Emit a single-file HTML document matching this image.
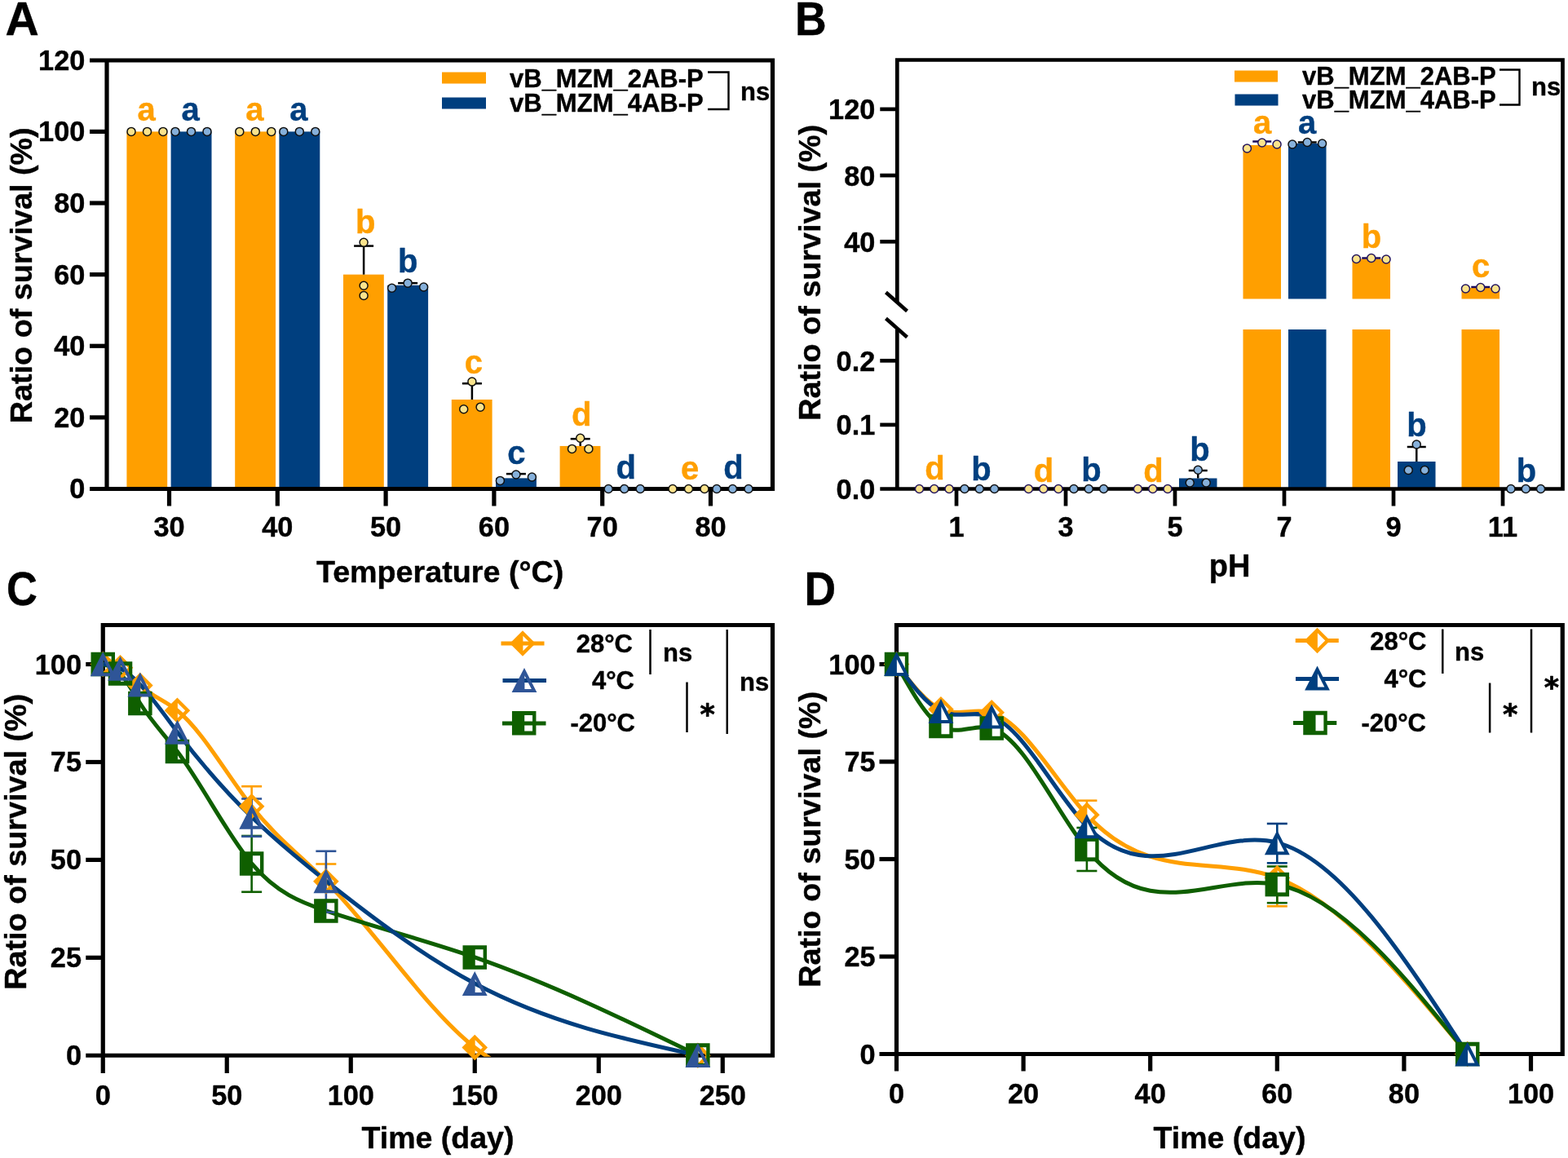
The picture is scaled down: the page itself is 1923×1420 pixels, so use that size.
<!DOCTYPE html>
<html lang="en"><head><meta charset="utf-8"><title>Figure</title>
<style>
html,body{margin:0;padding:0;background:#fff;}
body{width:1923px;height:1420px;}
svg{display:block;}
svg text{font-family:"Liberation Sans",Arial,sans-serif;font-weight:bold;stroke-width:0.4px;stroke-linejoin:round;}
svg text.st{font-family:"DejaVu Sans","Liberation Sans",sans-serif;font-weight:bold;stroke:#000;stroke-width:0.7px;}
</style></head><body>
<svg width="1923" height="1420" viewBox="0 0 1923 1420">
<rect width="1923" height="1420" fill="#fff"/>
<rect x="155.4" y="161.4" width="49.8" height="438.1" fill="#FF9F00"/>
<rect x="209.6" y="161.4" width="49.9" height="438.1" fill="#003F7F"/>
<rect x="288.2" y="161.4" width="49.8" height="438.1" fill="#FF9F00"/>
<rect x="342.4" y="161.4" width="49.9" height="438.1" fill="#003F7F"/>
<rect x="421" y="336.64" width="49.8" height="262.86" fill="#FF9F00"/>
<rect x="475.2" y="349.78" width="49.9" height="249.72" fill="#003F7F"/>
<rect x="553.8" y="489.98" width="49.8" height="109.52" fill="#FF9F00"/>
<rect x="608" y="586.36" width="49.9" height="13.14" fill="#003F7F"/>
<rect x="686.6" y="546.93" width="49.8" height="52.57" fill="#FF9F00"/>
<path d="M110 74H947.5V599.5H110M131 74V599.5" fill="none" stroke="#000" stroke-width="5.2" stroke-linejoin="miter"/>
<text x="104.3" y="611.4" font-size="34.3" text-anchor="end" fill="#000" stroke="#000">0</text>
<line x1="110" y1="511.88" x2="131" y2="511.88" stroke="#000" stroke-width="5.2"/>
<text x="104.3" y="523.78" font-size="34.3" text-anchor="end" fill="#000" stroke="#000">20</text>
<line x1="110" y1="424.26" x2="131" y2="424.26" stroke="#000" stroke-width="5.2"/>
<text x="104.3" y="436.16" font-size="34.3" text-anchor="end" fill="#000" stroke="#000">40</text>
<line x1="110" y1="336.64" x2="131" y2="336.64" stroke="#000" stroke-width="5.2"/>
<text x="104.3" y="348.54" font-size="34.3" text-anchor="end" fill="#000" stroke="#000">60</text>
<line x1="110" y1="249.02" x2="131" y2="249.02" stroke="#000" stroke-width="5.2"/>
<text x="104.3" y="260.92" font-size="34.3" text-anchor="end" fill="#000" stroke="#000">80</text>
<line x1="110" y1="161.4" x2="131" y2="161.4" stroke="#000" stroke-width="5.2"/>
<text x="104.3" y="173.3" font-size="34.3" text-anchor="end" fill="#000" stroke="#000">100</text>
<text x="104.3" y="85.68" font-size="34.3" text-anchor="end" fill="#000" stroke="#000">120</text>
<line x1="207.5" y1="599.5" x2="207.5" y2="620.5" stroke="#000" stroke-width="5.2"/>
<text x="207.5" y="658" font-size="34.3" text-anchor="middle" fill="#000" stroke="#000">30</text>
<line x1="340.3" y1="599.5" x2="340.3" y2="620.5" stroke="#000" stroke-width="5.2"/>
<text x="340.3" y="658" font-size="34.3" text-anchor="middle" fill="#000" stroke="#000">40</text>
<line x1="473.1" y1="599.5" x2="473.1" y2="620.5" stroke="#000" stroke-width="5.2"/>
<text x="473.1" y="658" font-size="34.3" text-anchor="middle" fill="#000" stroke="#000">50</text>
<line x1="605.9" y1="599.5" x2="605.9" y2="620.5" stroke="#000" stroke-width="5.2"/>
<text x="605.9" y="658" font-size="34.3" text-anchor="middle" fill="#000" stroke="#000">60</text>
<line x1="738.7" y1="599.5" x2="738.7" y2="620.5" stroke="#000" stroke-width="5.2"/>
<text x="738.7" y="658" font-size="34.3" text-anchor="middle" fill="#000" stroke="#000">70</text>
<line x1="871.5" y1="599.5" x2="871.5" y2="620.5" stroke="#000" stroke-width="5.2"/>
<text x="871.5" y="658" font-size="34.3" text-anchor="middle" fill="#000" stroke="#000">80</text>
<line x1="446.1" y1="336.64" x2="446.1" y2="301.59" stroke="#000" stroke-width="2.5"/>
<line x1="434.1" y1="301.59" x2="458.1" y2="301.59" stroke="#000" stroke-width="2.5"/>
<line x1="500.1" y1="349.78" x2="500.1" y2="347.15" stroke="#000" stroke-width="2.5"/>
<line x1="488.1" y1="347.15" x2="512.1" y2="347.15" stroke="#000" stroke-width="2.5"/>
<line x1="578.9" y1="489.98" x2="578.9" y2="470.26" stroke="#000" stroke-width="2.5"/>
<line x1="566.9" y1="470.26" x2="590.9" y2="470.26" stroke="#000" stroke-width="2.5"/>
<line x1="632.9" y1="586.36" x2="632.9" y2="581.1" stroke="#000" stroke-width="2.5"/>
<line x1="620.9" y1="581.1" x2="644.9" y2="581.1" stroke="#000" stroke-width="2.5"/>
<line x1="711.7" y1="546.93" x2="711.7" y2="538.17" stroke="#000" stroke-width="2.5"/>
<line x1="699.7" y1="538.17" x2="723.7" y2="538.17" stroke="#000" stroke-width="2.5"/>
<circle cx="161" cy="161.4" r="5.0" fill="#FBE38C" stroke="#111" stroke-width="1.5"/>
<circle cx="180.5" cy="161.4" r="5.0" fill="#FBE38C" stroke="#111" stroke-width="1.5"/>
<circle cx="200" cy="161.4" r="5.0" fill="#FBE38C" stroke="#111" stroke-width="1.5"/>
<circle cx="215" cy="161.4" r="5.0" fill="#86B0DA" stroke="#111" stroke-width="1.5"/>
<circle cx="234.5" cy="161.4" r="5.0" fill="#86B0DA" stroke="#111" stroke-width="1.5"/>
<circle cx="254" cy="161.4" r="5.0" fill="#86B0DA" stroke="#111" stroke-width="1.5"/>
<circle cx="293.8" cy="161.4" r="5.0" fill="#FBE38C" stroke="#111" stroke-width="1.5"/>
<circle cx="313.3" cy="161.4" r="5.0" fill="#FBE38C" stroke="#111" stroke-width="1.5"/>
<circle cx="332.8" cy="161.4" r="5.0" fill="#FBE38C" stroke="#111" stroke-width="1.5"/>
<circle cx="347.8" cy="161.4" r="5.0" fill="#86B0DA" stroke="#111" stroke-width="1.5"/>
<circle cx="367.3" cy="161.4" r="5.0" fill="#86B0DA" stroke="#111" stroke-width="1.5"/>
<circle cx="386.8" cy="161.4" r="5.0" fill="#86B0DA" stroke="#111" stroke-width="1.5"/>
<circle cx="446.1" cy="297.21" r="5.0" fill="#FBE38C" stroke="#111" stroke-width="1.5"/>
<circle cx="446.1" cy="350.22" r="5.0" fill="#FBE38C" stroke="#111" stroke-width="1.5"/>
<circle cx="446.1" cy="362.49" r="5.0" fill="#FBE38C" stroke="#111" stroke-width="1.5"/>
<circle cx="480.6" cy="353.29" r="5.0" fill="#86B0DA" stroke="#111" stroke-width="1.5"/>
<circle cx="500.1" cy="347.15" r="5.0" fill="#86B0DA" stroke="#111" stroke-width="1.5"/>
<circle cx="519.6" cy="351.97" r="5.0" fill="#86B0DA" stroke="#111" stroke-width="1.5"/>
<circle cx="568.7" cy="501.8" r="5.0" fill="#FBE38C" stroke="#111" stroke-width="1.5"/>
<circle cx="578.9" cy="468.07" r="5.0" fill="#FBE38C" stroke="#111" stroke-width="1.5"/>
<circle cx="589.1" cy="499.18" r="5.0" fill="#FBE38C" stroke="#111" stroke-width="1.5"/>
<circle cx="613.4" cy="589.42" r="5.0" fill="#86B0DA" stroke="#111" stroke-width="1.5"/>
<circle cx="632.9" cy="581.98" r="5.0" fill="#86B0DA" stroke="#111" stroke-width="1.5"/>
<circle cx="652.4" cy="585.04" r="5.0" fill="#86B0DA" stroke="#111" stroke-width="1.5"/>
<circle cx="701.5" cy="550.43" r="5.0" fill="#FBE38C" stroke="#111" stroke-width="1.5"/>
<circle cx="711.7" cy="537.29" r="5.0" fill="#FBE38C" stroke="#111" stroke-width="1.5"/>
<circle cx="721.9" cy="550.43" r="5.0" fill="#FBE38C" stroke="#111" stroke-width="1.5"/>
<circle cx="746.2" cy="599.5" r="5.0" fill="#86B0DA" stroke="#111" stroke-width="1.5"/>
<circle cx="765.7" cy="599.5" r="5.0" fill="#86B0DA" stroke="#111" stroke-width="1.5"/>
<circle cx="785.2" cy="599.5" r="5.0" fill="#86B0DA" stroke="#111" stroke-width="1.5"/>
<circle cx="825" cy="599.5" r="5.0" fill="#FBE38C" stroke="#111" stroke-width="1.5"/>
<circle cx="844.5" cy="599.5" r="5.0" fill="#FBE38C" stroke="#111" stroke-width="1.5"/>
<circle cx="864" cy="599.5" r="5.0" fill="#FBE38C" stroke="#111" stroke-width="1.5"/>
<circle cx="879" cy="599.5" r="5.0" fill="#86B0DA" stroke="#111" stroke-width="1.5"/>
<circle cx="898.5" cy="599.5" r="5.0" fill="#86B0DA" stroke="#111" stroke-width="1.5"/>
<circle cx="918" cy="599.5" r="5.0" fill="#86B0DA" stroke="#111" stroke-width="1.5"/>
<text x="179.5" y="148" font-size="40" text-anchor="middle" fill="#FF9F00" stroke="#FF9F00">a</text>
<text x="233.5" y="148" font-size="40" text-anchor="middle" fill="#003F7F" stroke="#003F7F">a</text>
<text x="312.3" y="148" font-size="40" text-anchor="middle" fill="#FF9F00" stroke="#FF9F00">a</text>
<text x="366.3" y="148" font-size="40" text-anchor="middle" fill="#003F7F" stroke="#003F7F">a</text>
<text x="448.1" y="285.5" font-size="40" text-anchor="middle" fill="#FF9F00" stroke="#FF9F00">b</text>
<text x="500.1" y="333.5" font-size="40" text-anchor="middle" fill="#003F7F" stroke="#003F7F">b</text>
<text x="580.9" y="457.5" font-size="40" text-anchor="middle" fill="#FF9F00" stroke="#FF9F00">c</text>
<text x="633.4" y="568.5" font-size="40" text-anchor="middle" fill="#003F7F" stroke="#003F7F">c</text>
<text x="713.2" y="522.2" font-size="40" text-anchor="middle" fill="#FF9F00" stroke="#FF9F00">d</text>
<text x="767.7" y="586.7" font-size="40" text-anchor="middle" fill="#003F7F" stroke="#003F7F">d</text>
<text x="846" y="588.2" font-size="40" text-anchor="middle" fill="#FF9F00" stroke="#FF9F00">e</text>
<text x="899.5" y="586.7" font-size="40" text-anchor="middle" fill="#003F7F" stroke="#003F7F">d</text>
<rect x="542" y="88.5" width="54" height="14" fill="#FF9F00"/>
<rect x="542" y="119.5" width="54" height="14" fill="#003F7F"/>
<text x="625" y="106.5" font-size="31" text-anchor="start" fill="#000" stroke="#000">vB_MZM_2AB-P</text>
<text x="625" y="137.2" font-size="31" text-anchor="start" fill="#000" stroke="#000">vB_MZM_4AB-P</text>
<path d="M868 88.5H893.5V134H868" fill="none" stroke="#000" stroke-width="2.4"/>
<text x="908" y="122.5" font-size="31" text-anchor="start" fill="#000" stroke="#000">ns</text>
<text x="539.6" y="714.3" font-size="37.7" text-anchor="middle" fill="#000" stroke="#000">Temperature (°C)</text>
<text transform="translate(39,337.8) rotate(-90)" font-size="37.75" text-anchor="middle" stroke="#000">Ratio of survival (%)</text>
<text transform="translate(6.6,42.5) scale(1.02,1.01)" font-size="56" stroke="#000">A</text>
<rect x="1524.5" y="178" width="46.5" height="188.5" fill="#FF9F00"/>
<rect x="1524.5" y="404" width="46.5" height="195.5" fill="#FF9F00"/>
<rect x="1580" y="176" width="46.5" height="190.5" fill="#003F7F"/>
<rect x="1580" y="404" width="46.5" height="195.5" fill="#003F7F"/>
<rect x="1658.5" y="317.5" width="46.5" height="49" fill="#FF9F00"/>
<rect x="1658.5" y="404" width="46.5" height="195.5" fill="#FF9F00"/>
<rect x="1792.5" y="353" width="46.5" height="13.5" fill="#FF9F00"/>
<rect x="1792.5" y="404" width="46.5" height="195.5" fill="#FF9F00"/>
<rect x="1446" y="586.5" width="46.5" height="13" fill="#003F7F"/>
<rect x="1714" y="566" width="46.5" height="33.5" fill="#003F7F"/>
<path d="M1100.3 372V73.5H1916.5V599.5H1079.3M1100.3 404V599.5" fill="none" stroke="#000" stroke-width="4.7"/>
<line x1="1086.5" y1="358.5" x2="1112.5" y2="381.5" stroke="#000" stroke-width="4.5"/>
<line x1="1086.5" y1="390.5" x2="1112.5" y2="413.5" stroke="#000" stroke-width="4.5"/>
<text x="1073.3" y="611.9" font-size="34.3" text-anchor="end" fill="#000" stroke="#000">0.0</text>
<line x1="1079.3" y1="520.9" x2="1100.3" y2="520.9" stroke="#000" stroke-width="4.7"/>
<text x="1073.3" y="533.3" font-size="34.3" text-anchor="end" fill="#000" stroke="#000">0.1</text>
<line x1="1079.3" y1="442.3" x2="1100.3" y2="442.3" stroke="#000" stroke-width="4.7"/>
<text x="1073.3" y="454.7" font-size="34.3" text-anchor="end" fill="#000" stroke="#000">0.2</text>
<line x1="1079.3" y1="296.3" x2="1100.3" y2="296.3" stroke="#000" stroke-width="4.7"/>
<text x="1073.3" y="308.7" font-size="34.3" text-anchor="end" fill="#000" stroke="#000">40</text>
<line x1="1079.3" y1="215.1" x2="1100.3" y2="215.1" stroke="#000" stroke-width="4.7"/>
<text x="1073.3" y="227.5" font-size="34.3" text-anchor="end" fill="#000" stroke="#000">80</text>
<line x1="1079.3" y1="133.9" x2="1100.3" y2="133.9" stroke="#000" stroke-width="4.7"/>
<text x="1073.3" y="146.3" font-size="34.3" text-anchor="end" fill="#000" stroke="#000">120</text>
<line x1="1173" y1="599.5" x2="1173" y2="620.5" stroke="#000" stroke-width="4.7"/>
<text x="1173" y="658" font-size="34.3" text-anchor="middle" fill="#000" stroke="#000">1</text>
<line x1="1307" y1="599.5" x2="1307" y2="620.5" stroke="#000" stroke-width="4.7"/>
<text x="1307" y="658" font-size="34.3" text-anchor="middle" fill="#000" stroke="#000">3</text>
<line x1="1441" y1="599.5" x2="1441" y2="620.5" stroke="#000" stroke-width="4.7"/>
<text x="1441" y="658" font-size="34.3" text-anchor="middle" fill="#000" stroke="#000">5</text>
<line x1="1575" y1="599.5" x2="1575" y2="620.5" stroke="#000" stroke-width="4.7"/>
<text x="1575" y="658" font-size="34.3" text-anchor="middle" fill="#000" stroke="#000">7</text>
<line x1="1709" y1="599.5" x2="1709" y2="620.5" stroke="#000" stroke-width="4.7"/>
<text x="1709" y="658" font-size="34.3" text-anchor="middle" fill="#000" stroke="#000">9</text>
<line x1="1843" y1="599.5" x2="1843" y2="620.5" stroke="#000" stroke-width="4.7"/>
<text x="1843" y="658" font-size="34.3" text-anchor="middle" fill="#000" stroke="#000">11</text>
<line x1="1469.25" y1="586.5" x2="1469.25" y2="577" stroke="#000" stroke-width="2.5"/>
<line x1="1457.75" y1="577" x2="1480.75" y2="577" stroke="#000" stroke-width="2.5"/>
<line x1="1737.25" y1="566" x2="1737.25" y2="548" stroke="#000" stroke-width="2.5"/>
<line x1="1725.75" y1="548" x2="1748.75" y2="548" stroke="#000" stroke-width="2.5"/>
<line x1="1547.75" y1="178" x2="1547.75" y2="173.5" stroke="#1a0a5a" stroke-width="2.5"/>
<line x1="1536.25" y1="173.5" x2="1559.25" y2="173.5" stroke="#1a0a5a" stroke-width="2.5"/>
<line x1="1603.25" y1="176" x2="1603.25" y2="174.5" stroke="#000" stroke-width="2.5"/>
<line x1="1591.75" y1="174.5" x2="1614.75" y2="174.5" stroke="#000" stroke-width="2.5"/>
<line x1="1681.75" y1="317.5" x2="1681.75" y2="316.5" stroke="#1a0a5a" stroke-width="2.5"/>
<line x1="1670.25" y1="316.5" x2="1693.25" y2="316.5" stroke="#1a0a5a" stroke-width="2.5"/>
<line x1="1815.75" y1="353" x2="1815.75" y2="352" stroke="#1a0a5a" stroke-width="2.5"/>
<line x1="1804.25" y1="352" x2="1827.25" y2="352" stroke="#1a0a5a" stroke-width="2.5"/>
<circle cx="1127.45" cy="599.5" r="5.0" fill="#FBE38C" stroke="#23155e" stroke-width="1.5"/>
<circle cx="1145.75" cy="599.5" r="5.0" fill="#FBE38C" stroke="#23155e" stroke-width="1.5"/>
<circle cx="1164.05" cy="599.5" r="5.0" fill="#FBE38C" stroke="#23155e" stroke-width="1.5"/>
<circle cx="1182.95" cy="599.5" r="5.0" fill="#86B0DA" stroke="#111" stroke-width="1.5"/>
<circle cx="1201.25" cy="599.5" r="5.0" fill="#86B0DA" stroke="#111" stroke-width="1.5"/>
<circle cx="1219.55" cy="599.5" r="5.0" fill="#86B0DA" stroke="#111" stroke-width="1.5"/>
<circle cx="1261.45" cy="599.5" r="5.0" fill="#FBE38C" stroke="#23155e" stroke-width="1.5"/>
<circle cx="1279.75" cy="599.5" r="5.0" fill="#FBE38C" stroke="#23155e" stroke-width="1.5"/>
<circle cx="1298.05" cy="599.5" r="5.0" fill="#FBE38C" stroke="#23155e" stroke-width="1.5"/>
<circle cx="1316.95" cy="599.5" r="5.0" fill="#86B0DA" stroke="#111" stroke-width="1.5"/>
<circle cx="1335.25" cy="599.5" r="5.0" fill="#86B0DA" stroke="#111" stroke-width="1.5"/>
<circle cx="1353.55" cy="599.5" r="5.0" fill="#86B0DA" stroke="#111" stroke-width="1.5"/>
<circle cx="1395.45" cy="599.5" r="5.0" fill="#FBE38C" stroke="#23155e" stroke-width="1.5"/>
<circle cx="1413.75" cy="599.5" r="5.0" fill="#FBE38C" stroke="#23155e" stroke-width="1.5"/>
<circle cx="1432.05" cy="599.5" r="5.0" fill="#FBE38C" stroke="#23155e" stroke-width="1.5"/>
<circle cx="1459.25" cy="592" r="5.0" fill="#86B0DA" stroke="#111" stroke-width="1.5"/>
<circle cx="1469.25" cy="576.3" r="5.0" fill="#86B0DA" stroke="#111" stroke-width="1.5"/>
<circle cx="1479.25" cy="592" r="5.0" fill="#86B0DA" stroke="#111" stroke-width="1.5"/>
<circle cx="1529.45" cy="182" r="5.0" fill="#FBE38C" stroke="#23155e" stroke-width="1.5"/>
<circle cx="1547.75" cy="175" r="5.0" fill="#FBE38C" stroke="#23155e" stroke-width="1.5"/>
<circle cx="1566.05" cy="177" r="5.0" fill="#FBE38C" stroke="#23155e" stroke-width="1.5"/>
<circle cx="1584.95" cy="177" r="5.0" fill="#86B0DA" stroke="#111" stroke-width="1.5"/>
<circle cx="1603.25" cy="174.5" r="5.0" fill="#86B0DA" stroke="#111" stroke-width="1.5"/>
<circle cx="1621.55" cy="176" r="5.0" fill="#86B0DA" stroke="#111" stroke-width="1.5"/>
<circle cx="1663.45" cy="317.5" r="5.0" fill="#FBE38C" stroke="#23155e" stroke-width="1.5"/>
<circle cx="1681.75" cy="316.5" r="5.0" fill="#FBE38C" stroke="#23155e" stroke-width="1.5"/>
<circle cx="1700.05" cy="318" r="5.0" fill="#FBE38C" stroke="#23155e" stroke-width="1.5"/>
<circle cx="1727.25" cy="576.5" r="5.0" fill="#86B0DA" stroke="#111" stroke-width="1.5"/>
<circle cx="1737.25" cy="545" r="5.0" fill="#86B0DA" stroke="#111" stroke-width="1.5"/>
<circle cx="1747.25" cy="576.5" r="5.0" fill="#86B0DA" stroke="#111" stroke-width="1.5"/>
<circle cx="1797.45" cy="354" r="5.0" fill="#FBE38C" stroke="#23155e" stroke-width="1.5"/>
<circle cx="1815.75" cy="352.5" r="5.0" fill="#FBE38C" stroke="#23155e" stroke-width="1.5"/>
<circle cx="1834.05" cy="354" r="5.0" fill="#FBE38C" stroke="#23155e" stroke-width="1.5"/>
<circle cx="1852.95" cy="599.5" r="5.0" fill="#86B0DA" stroke="#111" stroke-width="1.5"/>
<circle cx="1871.25" cy="599.5" r="5.0" fill="#86B0DA" stroke="#111" stroke-width="1.5"/>
<circle cx="1889.55" cy="599.5" r="5.0" fill="#86B0DA" stroke="#111" stroke-width="1.5"/>
<text x="1146.5" y="587.5" font-size="40" text-anchor="middle" fill="#FF9F00" stroke="#FF9F00">d</text>
<text x="1203.5" y="588.5" font-size="40" text-anchor="middle" fill="#003F7F" stroke="#003F7F">b</text>
<text x="1280" y="591" font-size="40" text-anchor="middle" fill="#FF9F00" stroke="#FF9F00">d</text>
<text x="1338.5" y="590" font-size="40" text-anchor="middle" fill="#003F7F" stroke="#003F7F">b</text>
<text x="1414.5" y="591" font-size="40" text-anchor="middle" fill="#FF9F00" stroke="#FF9F00">d</text>
<text x="1471.5" y="564.5" font-size="40" text-anchor="middle" fill="#003F7F" stroke="#003F7F">b</text>
<text x="1548" y="164" font-size="40" text-anchor="middle" fill="#FF9F00" stroke="#FF9F00">a</text>
<text x="1603" y="164" font-size="40" text-anchor="middle" fill="#003F7F" stroke="#003F7F">a</text>
<text x="1682" y="304.3" font-size="40" text-anchor="middle" fill="#FF9F00" stroke="#FF9F00">b</text>
<text x="1737.5" y="535" font-size="40" text-anchor="middle" fill="#003F7F" stroke="#003F7F">b</text>
<text x="1816" y="339.8" font-size="40" text-anchor="middle" fill="#FF9F00" stroke="#FF9F00">c</text>
<text x="1872" y="590.5" font-size="40" text-anchor="middle" fill="#003F7F" stroke="#003F7F">b</text>
<rect x="1514" y="86.5" width="53" height="14" fill="#FF9F00"/>
<rect x="1514.5" y="115.5" width="53" height="14" fill="#003F7F"/>
<text x="1597" y="104" font-size="31" text-anchor="start" fill="#000" stroke="#000">vB_MZM_2AB-P</text>
<text x="1597" y="133" font-size="31" text-anchor="start" fill="#000" stroke="#000">vB_MZM_4AB-P</text>
<path d="M1839 85.5H1863.5V128.5H1839" fill="none" stroke="#000" stroke-width="2.4"/>
<text x="1878" y="116.5" font-size="31" text-anchor="start" fill="#000" stroke="#000">ns</text>
<text x="1508" y="707.2" font-size="38" text-anchor="middle" fill="#000" stroke="#000">pH</text>
<text transform="translate(1006.2,334.3) rotate(-90)" font-size="37.75" text-anchor="middle" stroke="#000">Ratio of survival (%)</text>
<text transform="translate(975,42.5) scale(0.956,1.02)" font-size="56" stroke="#000">B</text>
<path d="M126.25 1294.25V766.5H947.5V1294.25H105.25" fill="none" stroke="#000" stroke-width="5.2"/>
<text x="100" y="1306.25" font-size="34.3" text-anchor="end" fill="#000" stroke="#000">0</text>
<line x1="105.25" y1="1174.33" x2="126.25" y2="1174.33" stroke="#000" stroke-width="5.2"/>
<text x="100" y="1186.33" font-size="34.3" text-anchor="end" fill="#000" stroke="#000">25</text>
<line x1="105.25" y1="1054.4" x2="126.25" y2="1054.4" stroke="#000" stroke-width="5.2"/>
<text x="100" y="1066.4" font-size="34.3" text-anchor="end" fill="#000" stroke="#000">50</text>
<line x1="105.25" y1="934.48" x2="126.25" y2="934.48" stroke="#000" stroke-width="5.2"/>
<text x="100" y="946.48" font-size="34.3" text-anchor="end" fill="#000" stroke="#000">75</text>
<line x1="105.25" y1="814.55" x2="126.25" y2="814.55" stroke="#000" stroke-width="5.2"/>
<text x="100" y="826.55" font-size="34.3" text-anchor="end" fill="#000" stroke="#000">100</text>
<line x1="126.25" y1="1294.25" x2="126.25" y2="1316" stroke="#000" stroke-width="5.2"/>
<text x="126.25" y="1355.4" font-size="34.3" text-anchor="middle" fill="#000" stroke="#000">0</text>
<line x1="278.25" y1="1294.25" x2="278.25" y2="1316" stroke="#000" stroke-width="5.2"/>
<text x="278.25" y="1355.4" font-size="34.3" text-anchor="middle" fill="#000" stroke="#000">50</text>
<line x1="430.25" y1="1294.25" x2="430.25" y2="1316" stroke="#000" stroke-width="5.2"/>
<text x="430.25" y="1355.4" font-size="34.3" text-anchor="middle" fill="#000" stroke="#000">100</text>
<line x1="582.25" y1="1294.25" x2="582.25" y2="1316" stroke="#000" stroke-width="5.2"/>
<text x="582.25" y="1355.4" font-size="34.3" text-anchor="middle" fill="#000" stroke="#000">150</text>
<line x1="734.25" y1="1294.25" x2="734.25" y2="1316" stroke="#000" stroke-width="5.2"/>
<text x="734.25" y="1355.4" font-size="34.3" text-anchor="middle" fill="#000" stroke="#000">200</text>
<line x1="886.25" y1="1294.25" x2="886.25" y2="1316" stroke="#000" stroke-width="5.2"/>
<text x="886.25" y="1355.4" font-size="34.3" text-anchor="middle" fill="#000" stroke="#000">250</text>
<clipPath id="clipC"><rect x="126.25" y="766.5" width="821.25" height="529.25"/></clipPath><g clip-path="url(#clipC)">
<path d="M126.25 814.5C133.34 814.59 140.44 814.67 147.53 818.75C155.64 823.41 163.74 833.29 171.85 840.6C187.05 854.31 202.25 859.03 217.45 871.25C247.85 895.7 278.25 950.18 308.65 988.75C339.05 1027.32 369.45 1049.97 399.85 1080.75C460.65 1142.31 521.45 1236.38 582.25 1284.5C673.45 1356.68 764.65 1325.46 855.85 1294.25" fill="none" stroke="#FF9F00" stroke-width="5" stroke-linejoin="round"/>
</g>
<path d="M126.25 814.5C133.34 816.52 140.44 818.54 147.53 825.9C155.64 834.31 163.74 849.69 171.85 862.5C187.05 886.51 202.25 901.48 217.45 921.6C247.85 961.84 278.25 1022.7 308.65 1058.9C339.05 1095.1 369.45 1106.64 399.85 1116.9C460.65 1137.42 521.45 1152.85 582.25 1173.9C673.45 1205.48 764.65 1249.74 855.85 1294" fill="none" stroke="#0F5F00" stroke-width="5" stroke-linejoin="round"/>
<path d="M126.25 814.3C133.34 815.29 140.44 816.27 147.53 819.7C155.64 823.62 163.74 830.72 171.85 839.4C187.05 855.67 202.25 877.47 217.45 897.7C247.85 938.15 278.25 972.3 308.65 1001.8C339.05 1031.3 369.45 1056.15 399.85 1080.25C460.65 1128.45 521.45 1173.63 582.25 1206C673.45 1254.55 764.65 1274.28 855.85 1294" fill="none" stroke="#003F7F" stroke-width="5" stroke-linejoin="round"/>
<line x1="308.65" y1="988" x2="308.65" y2="964.3" stroke="#FF9F00" stroke-width="2.6"/>
<line x1="296.15" y1="964.3" x2="321.15" y2="964.3" stroke="#FF9F00" stroke-width="2.6"/>
<line x1="308.65" y1="1025" x2="308.65" y2="1093.75" stroke="#0F5F00" stroke-width="2.6"/>
<line x1="296.15" y1="1025" x2="321.15" y2="1025" stroke="#0F5F00" stroke-width="2.6"/>
<line x1="296.15" y1="1093.75" x2="321.15" y2="1093.75" stroke="#0F5F00" stroke-width="2.6"/>
<line x1="308.65" y1="979.5" x2="308.65" y2="1025.75" stroke="#2F5597" stroke-width="2.6"/>
<line x1="296.15" y1="979.5" x2="321.15" y2="979.5" stroke="#2F5597" stroke-width="2.6"/>
<line x1="296.15" y1="1025.75" x2="321.15" y2="1025.75" stroke="#2F5597" stroke-width="2.6"/>
<line x1="399.85" y1="1080" x2="399.85" y2="1059.5" stroke="#FF9F00" stroke-width="2.6"/>
<line x1="387.35" y1="1059.5" x2="412.35" y2="1059.5" stroke="#FF9F00" stroke-width="2.6"/>
<line x1="399.85" y1="1043.75" x2="399.85" y2="1118.75" stroke="#2F5597" stroke-width="2.6"/>
<line x1="387.35" y1="1043.75" x2="412.35" y2="1043.75" stroke="#2F5597" stroke-width="2.6"/>
<line x1="387.35" y1="1118.75" x2="412.35" y2="1118.75" stroke="#2F5597" stroke-width="2.6"/>
<path d="M126.25 798.7L142.05 814.5L126.25 830.3L110.45 814.5ZM126.65 805.18L135.97 814.5L126.65 823.82Z" fill="#FF9F00" fill-rule="evenodd"/>
<path d="M147.53 802.95L163.33 818.75L147.53 834.55L131.73 818.75ZM147.93 809.43L157.25 818.75L147.93 828.07Z" fill="#FF9F00" fill-rule="evenodd"/>
<path d="M171.85 824.8L187.65 840.6L171.85 856.4L156.05 840.6ZM172.25 831.28L181.57 840.6L172.25 849.92Z" fill="#FF9F00" fill-rule="evenodd"/>
<path d="M217.45 855.45L233.25 871.25L217.45 887.05L201.65 871.25ZM217.85 861.93L227.17 871.25L217.85 880.57Z" fill="#FF9F00" fill-rule="evenodd"/>
<path d="M308.65 972.95L324.45 988.75L308.65 1004.55L292.85 988.75ZM309.05 979.43L318.37 988.75L309.05 998.07Z" fill="#FF9F00" fill-rule="evenodd"/>
<path d="M399.85 1064.95L415.65 1080.75L399.85 1096.55L384.05 1080.75ZM400.25 1071.43L409.57 1080.75L400.25 1090.07Z" fill="#FF9F00" fill-rule="evenodd"/>
<path d="M582.25 1268.7L598.05 1284.5L582.25 1300.3L566.45 1284.5ZM582.65 1275.18L591.97 1284.5L582.65 1293.82Z" fill="#FF9F00" fill-rule="evenodd"/>
<path d="M855.85 1278.45L871.65 1294.25L855.85 1310.05L840.05 1294.25ZM856.25 1284.93L865.57 1294.25L856.25 1303.57Z" fill="#FF9F00" fill-rule="evenodd"/>
<path d="M111.5 799.75L141 799.75L141 829.25L111.5 829.25ZM126.75 804.75L136.6 804.75L136.6 824.25L126.75 824.25Z" fill="#0F5F00" fill-rule="evenodd"/>
<path d="M132.78 811.15L162.28 811.15L162.28 840.65L132.78 840.65ZM148.03 816.15L157.88 816.15L157.88 835.65L148.03 835.65Z" fill="#0F5F00" fill-rule="evenodd"/>
<path d="M157.1 847.75L186.6 847.75L186.6 877.25L157.1 877.25ZM172.35 852.75L182.2 852.75L182.2 872.25L172.35 872.25Z" fill="#0F5F00" fill-rule="evenodd"/>
<path d="M202.7 906.85L232.2 906.85L232.2 936.35L202.7 936.35ZM217.95 911.85L227.8 911.85L227.8 931.35L217.95 931.35Z" fill="#0F5F00" fill-rule="evenodd"/>
<path d="M293.9 1044.15L323.4 1044.15L323.4 1073.65L293.9 1073.65ZM309.15 1049.15L319 1049.15L319 1068.65L309.15 1068.65Z" fill="#0F5F00" fill-rule="evenodd"/>
<path d="M385.1 1102.15L414.6 1102.15L414.6 1131.65L385.1 1131.65ZM400.35 1107.15L410.2 1107.15L410.2 1126.65L400.35 1126.65Z" fill="#0F5F00" fill-rule="evenodd"/>
<path d="M567.5 1159.15L597 1159.15L597 1188.65L567.5 1188.65ZM582.75 1164.15L592.6 1164.15L592.6 1183.65L582.75 1183.65Z" fill="#0F5F00" fill-rule="evenodd"/>
<path d="M841.1 1279.25L870.6 1279.25L870.6 1308.75L841.1 1308.75ZM856.35 1284.25L866.2 1284.25L866.2 1303.75L856.35 1303.75Z" fill="#0F5F00" fill-rule="evenodd"/>
<path d="M126.25 799.3L141.65 829.3L110.85 829.3ZM126.65 808.86L135.1 825.3L126.65 825.3Z" fill="#2F5597" fill-rule="evenodd"/>
<path d="M147.53 804.7L162.93 834.7L132.13 834.7ZM147.93 814.26L156.38 830.7L147.93 830.7Z" fill="#2F5597" fill-rule="evenodd"/>
<path d="M171.85 824.4L187.25 854.4L156.45 854.4ZM172.25 833.96L180.7 850.4L172.25 850.4Z" fill="#2F5597" fill-rule="evenodd"/>
<path d="M217.45 882.7L232.85 912.7L202.05 912.7ZM217.85 892.26L226.3 908.7L217.85 908.7Z" fill="#2F5597" fill-rule="evenodd"/>
<path d="M308.65 986.8L324.05 1016.8L293.25 1016.8ZM309.05 996.36L317.5 1012.8L309.05 1012.8Z" fill="#2F5597" fill-rule="evenodd"/>
<path d="M399.85 1065.25L415.25 1095.25L384.45 1095.25ZM400.25 1074.81L408.7 1091.25L400.25 1091.25Z" fill="#2F5597" fill-rule="evenodd"/>
<path d="M582.25 1191L597.65 1221L566.85 1221ZM582.65 1200.56L591.1 1217L582.65 1217Z" fill="#2F5597" fill-rule="evenodd"/>
<path d="M855.85 1279L871.25 1309L840.45 1309ZM856.25 1288.56L864.7 1305L856.25 1305Z" fill="#2F5597" fill-rule="evenodd"/>
<line x1="614.5" y1="789" x2="667.5" y2="789" stroke="#FF9F00" stroke-width="5"/>
<path d="M641 773.2L656.8 789L641 804.8L625.2 789ZM641.4 779.68L650.72 789L641.4 798.32Z" fill="#FF9F00" fill-rule="evenodd"/>
<line x1="616.5" y1="834.5" x2="670" y2="834.5" stroke="#003F7F" stroke-width="5"/>
<path d="M643 819L658.4 849L627.6 849ZM643.4 828.56L651.85 845L643.4 845Z" fill="#2F5597" fill-rule="evenodd"/>
<line x1="616" y1="887" x2="669.5" y2="887" stroke="#0F5F00" stroke-width="5"/>
<path d="M627.95 872.05L657.45 872.05L657.45 901.55L627.95 901.55ZM643.2 877.05L653.05 877.05L653.05 896.55L643.2 896.55Z" fill="#0F5F00" fill-rule="evenodd"/>
<text x="776" y="799.5" font-size="31" text-anchor="end" fill="#000" stroke="#000">28°C</text>
<text x="778" y="845" font-size="31" text-anchor="end" fill="#000" stroke="#000">4°C</text>
<text x="779" y="897" font-size="31" text-anchor="end" fill="#000" stroke="#000">-20°C</text>
<line x1="797.5" y1="772" x2="797.5" y2="827" stroke="#000" stroke-width="2.5"/>
<line x1="842.5" y1="836.5" x2="842.5" y2="898" stroke="#000" stroke-width="2.5"/>
<line x1="891.75" y1="772" x2="891.75" y2="900" stroke="#000" stroke-width="2.5"/>
<text x="813" y="810.5" font-size="31" text-anchor="start" fill="#000" stroke="#000">ns</text>
<text x="907" y="847" font-size="31" text-anchor="start" fill="#000" stroke="#000">ns</text>
<text x="867.6" y="887.8" font-size="35" text-anchor="middle" class="st">*</text>
<text x="537" y="1407.5" font-size="37.5" text-anchor="middle" fill="#000" stroke="#000">Time (day)</text>
<text transform="translate(31.8,1032.3) rotate(-90)" font-size="37.75" text-anchor="middle" stroke="#000">Ratio of survival (%)</text>
<text transform="translate(8.0,742) scale(0.935,1.02)" font-size="56" stroke="#000">C</text>
<path d="M1099.5 1292.5V766.5H1916.25V1292.5H1078.5" fill="none" stroke="#000" stroke-width="5.2"/>
<text x="1073.6" y="1304.5" font-size="34.3" text-anchor="end" fill="#000" stroke="#000">0</text>
<line x1="1078.5" y1="1173" x2="1099.5" y2="1173" stroke="#000" stroke-width="5.2"/>
<text x="1073.6" y="1185" font-size="34.3" text-anchor="end" fill="#000" stroke="#000">25</text>
<line x1="1078.5" y1="1053.5" x2="1099.5" y2="1053.5" stroke="#000" stroke-width="5.2"/>
<text x="1073.6" y="1065.5" font-size="34.3" text-anchor="end" fill="#000" stroke="#000">50</text>
<line x1="1078.5" y1="934" x2="1099.5" y2="934" stroke="#000" stroke-width="5.2"/>
<text x="1073.6" y="946" font-size="34.3" text-anchor="end" fill="#000" stroke="#000">75</text>
<line x1="1078.5" y1="814.5" x2="1099.5" y2="814.5" stroke="#000" stroke-width="5.2"/>
<text x="1073.6" y="826.5" font-size="34.3" text-anchor="end" fill="#000" stroke="#000">100</text>
<line x1="1099.5" y1="1292.5" x2="1099.5" y2="1313.5" stroke="#000" stroke-width="5.2"/>
<text x="1099.5" y="1352.9" font-size="34.3" text-anchor="middle" fill="#000" stroke="#000">0</text>
<line x1="1255.1" y1="1292.5" x2="1255.1" y2="1313.5" stroke="#000" stroke-width="5.2"/>
<text x="1255.1" y="1352.9" font-size="34.3" text-anchor="middle" fill="#000" stroke="#000">20</text>
<line x1="1410.7" y1="1292.5" x2="1410.7" y2="1313.5" stroke="#000" stroke-width="5.2"/>
<text x="1410.7" y="1352.9" font-size="34.3" text-anchor="middle" fill="#000" stroke="#000">40</text>
<line x1="1566.3" y1="1292.5" x2="1566.3" y2="1313.5" stroke="#000" stroke-width="5.2"/>
<text x="1566.3" y="1352.9" font-size="34.3" text-anchor="middle" fill="#000" stroke="#000">60</text>
<line x1="1721.9" y1="1292.5" x2="1721.9" y2="1313.5" stroke="#000" stroke-width="5.2"/>
<text x="1721.9" y="1352.9" font-size="34.3" text-anchor="middle" fill="#000" stroke="#000">80</text>
<line x1="1877.5" y1="1292.5" x2="1877.5" y2="1313.5" stroke="#000" stroke-width="5.2"/>
<text x="1877.5" y="1352.9" font-size="34.3" text-anchor="middle" fill="#000" stroke="#000">100</text>
<path d="M1099.5 814.5C1117.65 838.09 1135.81 861.68 1153.96 869.7C1174.71 878.87 1195.45 867.71 1216.2 873.8C1255.1 885.21 1294 957.24 1332.9 999.3C1410.7 1083.41 1488.5 1047.62 1566.3 1076.5C1644.1 1105.38 1721.9 1198.94 1799.7 1292.5" fill="none" stroke="#FF9F00" stroke-width="5" stroke-linejoin="round"/>
<path d="M1099.5 814.5C1117.65 847.08 1135.81 879.65 1153.96 890.5C1174.71 902.89 1195.45 886.9 1216.2 893C1255.1 904.43 1294 993.5 1332.9 1041.6C1410.7 1137.8 1488.5 1070.1 1566.3 1084.6C1644.1 1099.1 1721.9 1195.8 1799.7 1292.5" fill="none" stroke="#0F5F00" stroke-width="5" stroke-linejoin="round"/>
<path d="M1099.5 814C1117.65 838.68 1135.81 863.35 1153.96 872C1174.71 881.88 1195.45 870.82 1216.2 878.5C1255.1 892.89 1294 973.15 1332.9 1013.3C1410.7 1093.6 1488.5 1013.5 1566.3 1033.3C1644.1 1053.1 1721.9 1172.8 1799.7 1292.5" fill="none" stroke="#003F7F" stroke-width="5" stroke-linejoin="round"/>
<line x1="1332.9" y1="999" x2="1332.9" y2="981.7" stroke="#FF9F00" stroke-width="2.6"/>
<line x1="1320.4" y1="981.7" x2="1345.4" y2="981.7" stroke="#FF9F00" stroke-width="2.6"/>
<line x1="1332.9" y1="1015" x2="1332.9" y2="1068" stroke="#0F5F00" stroke-width="2.6"/>
<line x1="1320.4" y1="1015" x2="1345.4" y2="1015" stroke="#0F5F00" stroke-width="2.6"/>
<line x1="1320.4" y1="1068" x2="1345.4" y2="1068" stroke="#0F5F00" stroke-width="2.6"/>
<line x1="1566.3" y1="1076" x2="1566.3" y2="1111.3" stroke="#FF9F00" stroke-width="2.6"/>
<line x1="1553.8" y1="1111.3" x2="1578.8" y2="1111.3" stroke="#FF9F00" stroke-width="2.6"/>
<line x1="1566.3" y1="1062.5" x2="1566.3" y2="1107.2" stroke="#0F5F00" stroke-width="2.6"/>
<line x1="1553.8" y1="1062.5" x2="1578.8" y2="1062.5" stroke="#0F5F00" stroke-width="2.6"/>
<line x1="1553.8" y1="1107.2" x2="1578.8" y2="1107.2" stroke="#0F5F00" stroke-width="2.6"/>
<line x1="1566.3" y1="1010" x2="1566.3" y2="1058.3" stroke="#003F7F" stroke-width="2.6"/>
<line x1="1553.8" y1="1010" x2="1578.8" y2="1010" stroke="#003F7F" stroke-width="2.6"/>
<line x1="1553.8" y1="1058.3" x2="1578.8" y2="1058.3" stroke="#003F7F" stroke-width="2.6"/>
<path d="M1099.5 798.7L1115.3 814.5L1099.5 830.3L1083.7 814.5Z" fill="#FF9F00"/><path d="M1099.9 805.18L1109.22 814.5L1099.9 823.82Z" fill="#fff"/>
<path d="M1153.96 853.9L1169.76 869.7L1153.96 885.5L1138.16 869.7Z" fill="#FF9F00"/><path d="M1154.36 860.38L1163.68 869.7L1154.36 879.02Z" fill="#fff"/>
<path d="M1216.2 858L1232 873.8L1216.2 889.6L1200.4 873.8Z" fill="#FF9F00"/><path d="M1216.6 864.48L1225.92 873.8L1216.6 883.12Z" fill="#fff"/>
<path d="M1332.9 983.5L1348.7 999.3L1332.9 1015.1L1317.1 999.3Z" fill="#FF9F00"/><path d="M1333.3 989.98L1342.62 999.3L1333.3 1008.62Z" fill="#fff"/>
<path d="M1566.3 1060.7L1582.1 1076.5L1566.3 1092.3L1550.5 1076.5Z" fill="#FF9F00"/><path d="M1566.7 1067.18L1576.02 1076.5L1566.7 1085.82Z" fill="#fff"/>
<path d="M1799.7 1276.7L1815.5 1292.5L1799.7 1308.3L1783.9 1292.5Z" fill="#FF9F00"/><path d="M1800.1 1283.18L1809.42 1292.5L1800.1 1301.82Z" fill="#fff"/>
<path d="M1084.75 799.75L1114.25 799.75L1114.25 829.25L1084.75 829.25Z" fill="#0F5F00"/><path d="M1100 804.75L1109.85 804.75L1109.85 824.25L1100 824.25Z" fill="#fff"/>
<path d="M1139.21 875.75L1168.71 875.75L1168.71 905.25L1139.21 905.25Z" fill="#0F5F00"/><path d="M1154.46 880.75L1164.31 880.75L1164.31 900.25L1154.46 900.25Z" fill="#fff"/>
<path d="M1201.45 878.25L1230.95 878.25L1230.95 907.75L1201.45 907.75Z" fill="#0F5F00"/><path d="M1216.7 883.25L1226.55 883.25L1226.55 902.75L1216.7 902.75Z" fill="#fff"/>
<path d="M1318.15 1026.85L1347.65 1026.85L1347.65 1056.35L1318.15 1056.35Z" fill="#0F5F00"/><path d="M1333.4 1031.85L1343.25 1031.85L1343.25 1051.35L1333.4 1051.35Z" fill="#fff"/>
<path d="M1551.55 1069.85L1581.05 1069.85L1581.05 1099.35L1551.55 1099.35Z" fill="#0F5F00"/><path d="M1566.8 1074.85L1576.65 1074.85L1576.65 1094.35L1566.8 1094.35Z" fill="#fff"/>
<path d="M1784.95 1277.75L1814.45 1277.75L1814.45 1307.25L1784.95 1307.25Z" fill="#0F5F00"/><path d="M1800.2 1282.75L1810.05 1282.75L1810.05 1302.25L1800.2 1302.25Z" fill="#fff"/>
<path d="M1099.5 799L1114.9 829L1084.1 829Z" fill="#003F7F"/><path d="M1099.9 808.56L1108.35 825L1099.9 825Z" fill="#fff"/>
<path d="M1153.96 857L1169.36 887L1138.56 887Z" fill="#003F7F"/><path d="M1154.36 866.56L1162.81 883L1154.36 883Z" fill="#fff"/>
<path d="M1216.2 863.5L1231.6 893.5L1200.8 893.5Z" fill="#003F7F"/><path d="M1216.6 873.06L1225.05 889.5L1216.6 889.5Z" fill="#fff"/>
<path d="M1332.9 998.3L1348.3 1028.3L1317.5 1028.3Z" fill="#003F7F"/><path d="M1333.3 1007.86L1341.75 1024.3L1333.3 1024.3Z" fill="#fff"/>
<path d="M1566.3 1018.3L1581.7 1048.3L1550.9 1048.3Z" fill="#003F7F"/><path d="M1566.7 1027.86L1575.15 1044.3L1566.7 1044.3Z" fill="#fff"/>
<path d="M1799.7 1277.5L1815.1 1307.5L1784.3 1307.5Z" fill="#003F7F"/><path d="M1800.1 1287.06L1808.55 1303.5L1800.1 1303.5Z" fill="#fff"/>
<line x1="1588.75" y1="785.5" x2="1641.75" y2="785.5" stroke="#FF9F00" stroke-width="5"/>
<path d="M1615.5 769.7L1631.3 785.5L1615.5 801.3L1599.7 785.5Z" fill="#FF9F00"/><path d="M1615.9 776.18L1625.22 785.5L1615.9 794.82Z" fill="#fff"/>
<line x1="1589" y1="832.5" x2="1642" y2="832.5" stroke="#003F7F" stroke-width="5"/>
<path d="M1615.5 816.5L1630.9 846.5L1600.1 846.5Z" fill="#003F7F"/><path d="M1615.9 826.06L1624.35 842.5L1615.9 842.5Z" fill="#fff"/>
<line x1="1586" y1="886.5" x2="1639.25" y2="886.5" stroke="#0F5F00" stroke-width="5"/>
<path d="M1598.25 871.75L1627.75 871.75L1627.75 901.25L1598.25 901.25Z" fill="#0F5F00"/><path d="M1613.5 876.75L1623.35 876.75L1623.35 896.25L1613.5 896.25Z" fill="#fff"/>
<text x="1749.5" y="796.5" font-size="31" text-anchor="end" fill="#000" stroke="#000">28°C</text>
<text x="1749.5" y="842.5" font-size="31" text-anchor="end" fill="#000" stroke="#000">4°C</text>
<text x="1749" y="897" font-size="31" text-anchor="end" fill="#000" stroke="#000">-20°C</text>
<line x1="1769.25" y1="771.5" x2="1769.25" y2="826" stroke="#000" stroke-width="2.5"/>
<line x1="1827.1" y1="837.5" x2="1827.1" y2="898.5" stroke="#000" stroke-width="2.5"/>
<line x1="1878" y1="771.5" x2="1878" y2="898.5" stroke="#000" stroke-width="2.5"/>
<text x="1784" y="810" font-size="31" text-anchor="start" fill="#000" stroke="#000">ns</text>
<text x="1852.2" y="888" font-size="35" text-anchor="middle" class="st">*</text>
<text x="1903" y="855.3" font-size="35" text-anchor="middle" class="st">*</text>
<text x="1508" y="1407.5" font-size="37.5" text-anchor="middle" fill="#000" stroke="#000">Time (day)</text>
<text transform="translate(1005.5,1029.3) rotate(-90)" font-size="37.75" text-anchor="middle" stroke="#000">Ratio of survival (%)</text>
<text transform="translate(986.4,742) scale(0.954,1.02)" font-size="56" stroke="#000">D</text>
</svg>
</body></html>
